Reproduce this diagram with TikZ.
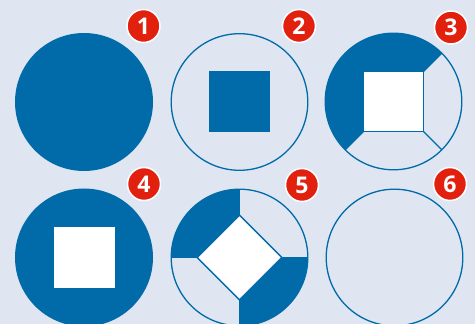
\documentclass[tikz,border=0pt]{standalone}
\usepackage{fontspec}
\setmainfont{Open Sans}
\usetikzlibrary{calc}
\definecolor{bg}{HTML}{DFE6F2}
\definecolor{blu}{HTML}{006BA8}
\definecolor{rd}{HTML}{E2200E}
\begin{document}
\begin{tikzpicture}[x=1pt,y=1pt,
  outl/.style={draw=blu,line width=1.3pt},
  badge/.style={circle,fill=rd,draw=white,line width=1.5pt,minimum size=33pt,inner sep=0pt,text=white,font=\fontsize{23}{23}\selectfont\bfseries}]
\fill[bg] (0,0) rectangle (475,324);
\useasboundingbox (0,0) rectangle (475,324);
\clip (0,0) rectangle (475,324);
% centres
\coordinate (c1) at (84,222);
\coordinate (c2) at (239.5,222);
\coordinate (c3) at (393.5,222.5);
\coordinate (c4) at (84,66.5);
\coordinate (c5) at (239.5,66.5);
\coordinate (c6) at (394.5,66.5);
% 1
\fill[blu] (c1) circle (69);
% 2
\draw[outl] (c2) circle (68.3);
\fill[blu] ($(c2)+(-30.5,-30.5)$) rectangle ($(c2)+(30.5,30.5)$);
% 3
\fill[blu] ($(c3)+(45:68.3)$) arc (45:225:68.3) -- ($(c3)+(-30,-30)$) -- ($(c3)+(-30,30)$) -- ($(c3)+(30,30)$) -- cycle;
\filldraw[fill=white,outl] ($(c3)+(-30,-30)$) rectangle ($(c3)+(30,30)$);
\draw[outl] (c3) circle (68.3);
\draw[outl] ($(c3)+(30,-30)$) -- ($(c3)+(-45:68.3)$);
\draw[outl] ($(c3)+(30,30)$) -- ($(c3)+(45:68.3)$);
\draw[outl] ($(c3)+(-30,-30)$) -- ($(c3)+(225:68.3)$);
% 4
\fill[blu] (c4) circle (69);
\fill[white] ($(c4)+(-30.5,-30.5)$) rectangle ($(c4)+(30.5,30.5)$);
% 5
\fill[blu] ($(c5)+(0,68.3)$) arc (90:180:68.3) -- ($(c5)+(-42.4,0)$) -- ($(c5)+(0,42.4)$) -- cycle;
\fill[blu] ($(c5)+(0,-68.3)$) arc (270:360:68.3) -- ($(c5)+(42.4,0)$) -- ($(c5)+(0,-42.4)$) -- cycle;
\filldraw[fill=white,outl] ($(c5)+(-42.4,0)$) -- ($(c5)+(0,42.4)$) -- ($(c5)+(42.4,0)$) -- ($(c5)+(0,-42.4)$) -- cycle;
\draw[outl] (c5) circle (68.3);
\draw[outl] ($(c5)+(0,42.4)$) -- ($(c5)+(0,68.3)$);
\draw[outl] ($(c5)+(0,-42.4)$) -- ($(c5)+(0,-68.3)$);
\draw[outl] ($(c5)+(42.4,0)$) -- ($(c5)+(68.3,0)$);
\draw[outl] ($(c5)+(-42.4,0)$) -- ($(c5)+(-68.3,0)$);
% 6
\draw[outl] (c6) circle (68.3);
% badges
\node[badge] (b1) at (143.5,298) {1};
\node[badge] (b2) at (299,298) {2};
\node[badge] (b3) at (451,296.5) {3};
\node[badge] (b4) at (144,140) {4};
\node[badge] (b5) at (302,139) {5};
\node[badge] (b6) at (450,140) {6};
\end{tikzpicture}
\end{document}
